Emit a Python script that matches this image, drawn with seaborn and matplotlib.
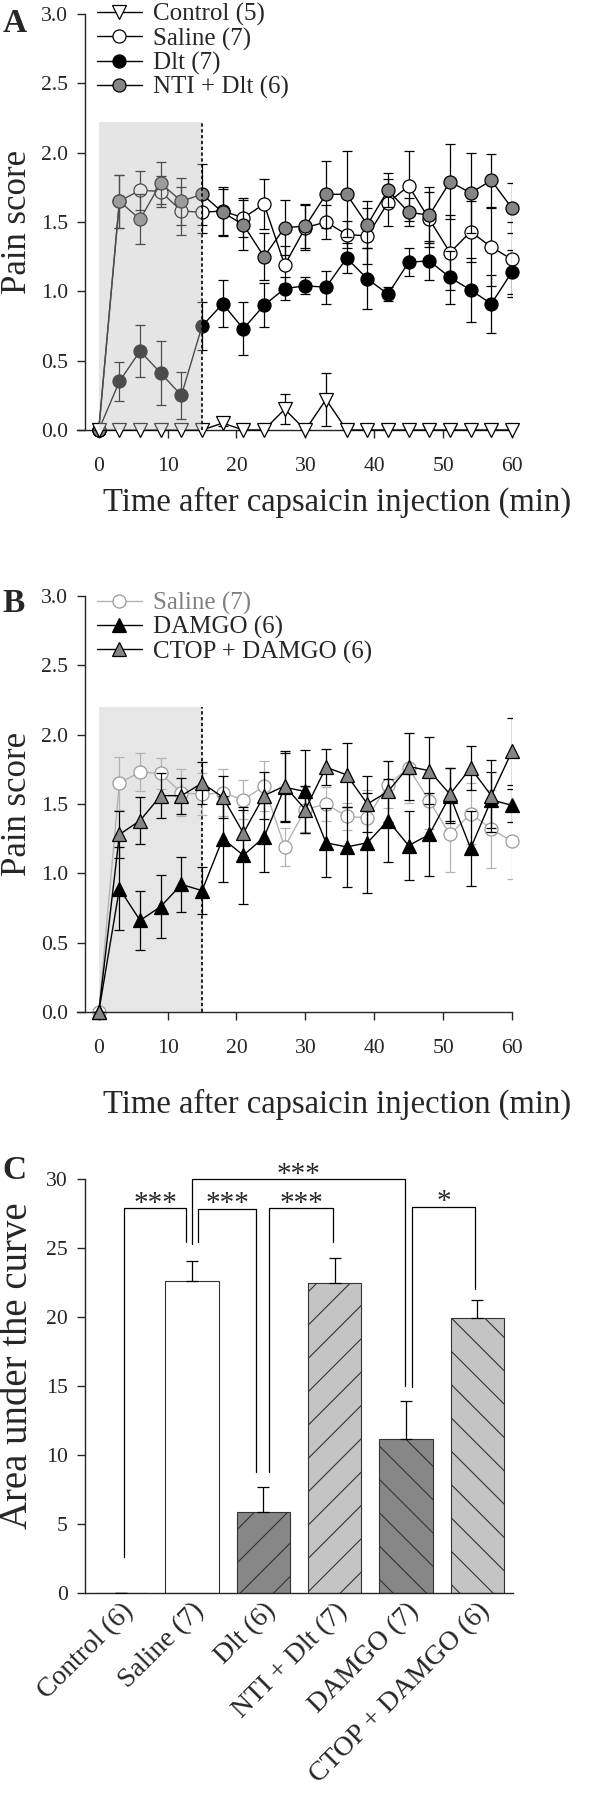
import matplotlib
matplotlib.use("Agg")
import matplotlib.pyplot as plt
import numpy as np
import seaborn as sns
from matplotlib.ticker import FormatStrFormatter

# time points (min)
time = [0, 3, 6, 9, 12, 15, 18, 21, 24, 27, 30, 33, 36, 39, 42, 45, 48, 51, 54, 57, 60]

# panel A
control_mean = [0, 0, 0, 0, 0, 0, 0.05, 0, 0, 0.15, 0, 0.22, 0, 0, 0, 0, 0, 0, 0, 0, 0]
control_sem = [0, 0, 0, 0, 0, 0, 0.02, 0, 0, 0.11, 0, 0.19, 0, 0, 0, 0, 0, 0, 0, 0, 0]
saline_mean = [0, 1.65, 1.73, 1.72, 1.58, 1.57, 1.58, 1.53, 1.63, 1.19, 1.46,
               1.50, 1.41, 1.40, 1.64, 1.76, 1.52, 1.28, 1.43, 1.32, 1.23]
saline_sem = [0, 0.19, 0.14, 0.11, 0.17, 0.15, 0.17, 0.14, 0.18, 0.14, 0.16,
              0.12, 0.10, 0.20, 0.17, 0.25, 0.20, 0.27, 0.22, 0.28, 0.27]
dlt_mean = [0, 0.35, 0.57, 0.41, 0.25, 0.75, 0.91, 0.73, 0.90, 1.02, 1.04,
            1.03, 1.24, 1.09, 0.98, 1.21, 1.22, 1.10, 1.01, 0.91, 1.14]
dlt_sem = [0, 0.14, 0.19, 0.23, 0.17, 0.17, 0.17, 0.19, 0.16, 0.08, 0.06,
           0.12, 0.11, 0.22, 0.05, 0.10, 0.14, 0.19, 0.23, 0.21, 0.16]
nti_mean = [0, 1.65, 1.52, 1.78, 1.65, 1.70, 1.57, 1.48, 1.25, 1.46, 1.47,
            1.70, 1.70, 1.48, 1.73, 1.57, 1.55, 1.79, 1.71, 1.80, 1.60]
nti_sem = [0, 0.19, 0.18, 0.15, 0.17, 0.22, 0.17, 0.18, 0.17, 0.20, 0.16,
           0.24, 0.31, 0.17, 0.12, 0.10, 0.20, 0.27, 0.29, 0.19, 0.18]

# panel B
damgo_mean = [0, 0.89, 0.66, 0.76, 0.92, 0.875, 1.25, 1.13, 1.26, 1.62, 1.59,
              1.22, 1.19, 1.22, 1.38, 1.20, 1.28, 1.56, 1.18, 1.53, 1.49]
damgo_sem = [0, 0.30, 0.21, 0.23, 0.20, 0.17, 0.31, 0.35, 0.25, 0.25, 0.30,
             0.25, 0.29, 0.36, 0.30, 0.25, 0.30, 0.20, 0.27, 0.20, 0.12]
ctop_mean = [0, 1.28, 1.38, 1.56, 1.56, 1.65, 1.55, 1.29, 1.56, 1.63, 1.46,
             1.765, 1.71, 1.50, 1.59, 1.77, 1.74, 1.57, 1.76, 1.56, 1.88]
ctop_sem = [0, 0.17, 0.17, 0.16, 0.13, 0.15, 0.15, 0.17, 0.17, 0.25, 0.17,
            0.13, 0.23, 0.20, 0.22, 0.24, 0.24, 0.19, 0.16, 0.26, 0.24]

# panel C
groups = ["Control (6)", "Saline (7)", "Dlt (6)", "NTI + Dlt (7)", "DAMGO (7)", "CTOP + DAMGO (6)"]
auc = [0, 22.6, 5.85, 22.45, 11.15, 19.95]
auc_sem = [0, 1.45, 1.8, 1.8, 2.75, 1.3]
bar_colors = ["white", "white", "#878787", "#c4c4c4", "#878787", "#c4c4c4"]
bar_hatches = ["", "", "/", "/", "\\", "\\"]
# (left x, right x, top, left leg end, right leg end, label)
brackets = [
    (0.05, 0.92, 27.9, 2.6, 25.4, "***"),
    (1.09, 1.90, 27.85, 25.4, 8.8, "***"),
    (1.00, 3.98, 30.0, 25.3, 15.0, "***"),
    (2.08, 2.98, 27.9, 8.8, 25.4, "***"),
    (4.09, 4.97, 28.0, 14.9, 22.0, "*"),
]

sns.set_style("ticks")
plt.rcParams["font.family"] = ["Liberation Serif", "DejaVu Serif"]
plt.rcParams["hatch.linewidth"] = 0.8
plt.rcParams["axes.linewidth"] = 1.0

fig = plt.figure(figsize=(6.1, 18), dpi=100)
ax_a = fig.add_axes([0.1393, 0.7611, 0.7000, 0.2311])
ax_b = fig.add_axes([0.1393, 0.4378, 0.7000, 0.2311])
ax_c = fig.add_axes([0.1393, 0.115, 0.7016, 0.23])


def draw_series(ax, mean, sem, label, marker, face, line="black", edge="black", ecolor="black", z=3):
    ax.errorbar(time, mean, yerr=sem, fmt="none", ecolor=ecolor, elinewidth=0.9,
                capsize=3.6, capthick=0.9, zorder=z)
    sns.lineplot(x=time, y=mean, ax=ax, color=line, lw=1.0, marker=marker, markersize=9.4,
                 markerfacecolor=face, markeredgecolor=edge, markeredgewidth=0.9,
                 label=label, errorbar=None, zorder=z + 0.5, clip_on=False)


# ---- A
draw_series(ax_a, control_mean, control_sem, "Control (5)", "v", "white", z=6)
draw_series(ax_a, saline_mean, saline_sem, "Saline (7)", "o", "white", z=3)
draw_series(ax_a, dlt_mean, dlt_sem, "Dlt (7)", "o", "black", z=4)
draw_series(ax_a, nti_mean, nti_sem, "NTI + Dlt (6)", "o", "#858585", z=5)
ax_a.fill_between([0, 15], 0, 2.22, color="#bfbfbf", alpha=0.4, lw=0, zorder=10)
ax_a.plot([15, 15], [0, 2.22], color="black", lw=1.2, ls=(0, (2, 1.5)), zorder=11)
leg = ax_a.legend(loc="upper left", bbox_to_anchor=(0.028, 1.026), frameon=False, fontsize=18,
                  handlelength=1.8, handletextpad=0.45, labelspacing=0.05,
                  borderpad=0, borderaxespad=0)
leg.set_zorder(20)

# ---- B
ax_b.fill_between([0, 15], 0, 2.2, color="#e6e6e6", lw=0, zorder=0)
ax_b.plot([15, 15], [0, 2.2], color="black", lw=1.2, ls=(0, (2, 1.5)), zorder=1)
draw_series(ax_b, saline_mean, saline_sem, "Saline (7)", "o", "white",
            line="#b3b3b3", edge="#9a9a9a", ecolor="#b3b3b3", z=2)
draw_series(ax_b, damgo_mean, damgo_sem, "DAMGO (6)", "^", "black", z=4)
draw_series(ax_b, ctop_mean, ctop_sem, "CTOP + DAMGO (6)", "^", "#858585", z=5)
leg = ax_b.legend(loc="upper left", bbox_to_anchor=(0.028, 1.01), frameon=False, fontsize=18,
                  handlelength=1.8, handletextpad=0.45, labelspacing=0.05,
                  borderpad=0, borderaxespad=0)
leg.get_texts()[0].set_color("#808080")

for ax in (ax_a, ax_b):
    ax.set_xlim(-2, 60)
    ax.set_ylim(0, 3)
    ax.set_xticks([0, 10, 20, 30, 40, 50, 60])
    ax.set_yticks(np.arange(0, 3.01, 0.5))
    ax.yaxis.set_major_formatter(FormatStrFormatter("%.1f"))
    ax.tick_params(axis="y", length=5.8, width=1.0, pad=6.4, labelsize=15.6)
    ax.tick_params(axis="x", length=5.8, width=1.0, pad=13.6, labelsize=15.6)
    ax.set_ylabel("Pain score", fontsize=25)
    ax.set_xlabel("Time after capsaicin injection (min)", fontsize=23.5)
    ax.yaxis.set_label_coords(-0.119, 0.5)
    sns.despine(ax=ax)
    ax.spines["bottom"].set_bounds(-3.2, 60)
ax_a.xaxis.set_label_coords(0.59, -0.137)
ax_b.xaxis.set_label_coords(0.59, -0.185)

# ---- C
sns.barplot(x=groups, y=auc, hue=groups, palette=bar_colors, legend=False, width=0.75,
            edgecolor="#333333", linewidth=0.8, errorbar=None, saturation=1, ax=ax_c)
for patch, h in zip(ax_c.patches, bar_hatches):
    patch.set_hatch(h)
ax_c.errorbar(range(len(groups)), auc, yerr=[[0] * len(groups), auc_sem], fmt="none",
              ecolor="black", elinewidth=0.9, capsize=4.4, capthick=0.9, zorder=3)
for x1, x2, top, e1, e2, txt in brackets:
    ax_c.plot([x1, x1, x2, x2], [e1, top, top, e2], color="black", lw=0.9, clip_on=False)
    ax_c.text((x1 + x2) / 2, top - 0.2, txt, ha="center", va="baseline", fontsize=21)
ax_c.set_xlim(-0.5, 5.5)
ax_c.set_ylim(0, 30)
ax_c.set_yticks([0, 5, 10, 15, 20, 25, 30])
ax_c.tick_params(axis="y", length=5.8, width=1.0, pad=6.4, labelsize=15.6)
ax_c.tick_params(axis="x", length=0, pad=4)
ax_c.set_xticks(range(len(groups)))
ax_c.set_xticklabels(groups, rotation=45, ha="right", va="top", rotation_mode="anchor", fontsize=20)
ax_c.set_xlabel("")
ax_c.set_ylabel("Area under the curve", fontsize=28)
ax_c.yaxis.set_label_coords(-0.114, 0.548)
sns.despine(ax=ax_c)

fig.text(0.004, 1 - 8 / 1800, "A", fontsize=24, weight="bold", va="top")
fig.text(0.004, 1 - 588 / 1800, "B", fontsize=24, weight="bold", va="top")
fig.text(0.004, 1 - 1155 / 1800, "C", fontsize=24, weight="bold", va="top")

fig.savefig("out.png", dpi=100)
